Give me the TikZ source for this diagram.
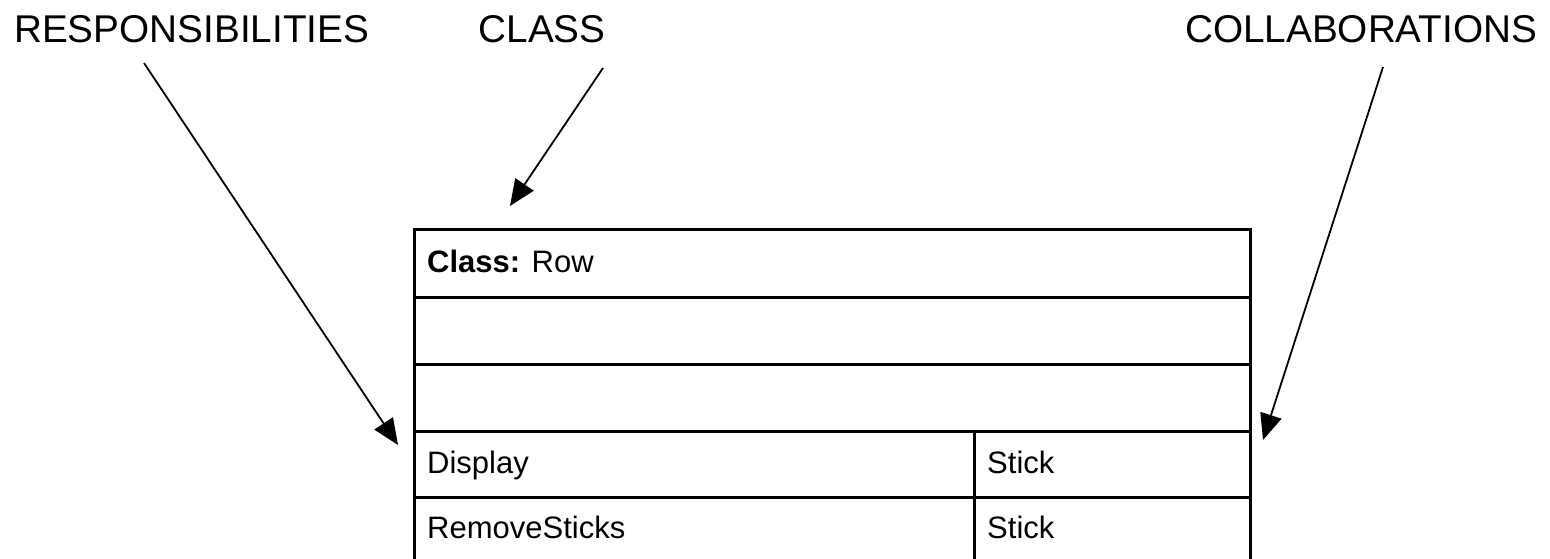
\documentclass[tikz,border=0pt]{standalone}
\usepackage{fontspec}
\setmainfont{Liberation Sans}
\usetikzlibrary{arrows.meta}
\begin{document}
\begin{tikzpicture}[x=1pt,y=-1pt,
  lbl/.style={inner sep=0pt,anchor=base west,font=\fontsize{38.7}{40}\selectfont},
  cell/.style={inner sep=0pt,anchor=base west,font=\fontsize{31}{33}\selectfont},
  grid/.style={line width=3pt},
  arr/.style={line width=1.8pt,-{Triangle[length=26pt,width=22pt]}}]
\useasboundingbox (0,0) rectangle (1550,559);
\clip (0,0) rectangle (1550,559);
% labels
\node[lbl] (resp) at (14,43) {RESPONSIBILITIES};
\node[lbl,anchor=base] (cls) at (542,43) {CLASS};
\node[lbl] (coll) at (1185,43) {COLLABORATIONS};
% arrow ends
\coordinate (rs) at (144,63);
\coordinate (rt) at (398,445);
\coordinate (cs) at (603,68);
\coordinate (ct) at (510,206);
\coordinate (ks) at (1383,67);
\coordinate (kt) at (1263,440);
\draw[arr] (rs) -- (rt);
\draw[arr] (cs) -- (ct);
\draw[arr] (ks) -- (kt);
% table
\coordinate (tl) at (414,229);
\coordinate (br) at (1250,570);
\draw[grid] (tl) rectangle (br);
\draw[grid] (414,297) -- (1250,297);
\draw[grid] (414,364) -- (1250,364);
\draw[grid] (414,431) -- (1250,431);
\draw[grid] (414,497) -- (1250,497);
\draw[grid] (974,431) -- (974,570);
% cell texts
\node[cell] (c0) at (427,272) {\textbf{Class:} Row};
\node[cell] (r1) at (427,473) {Display};
\node[cell] (r2) at (427,538) {RemoveSticks};
\node[cell] (k1) at (987,473) {Stick};
\node[cell] (k2) at (987,538) {Stick};
\end{tikzpicture}
\end{document}
